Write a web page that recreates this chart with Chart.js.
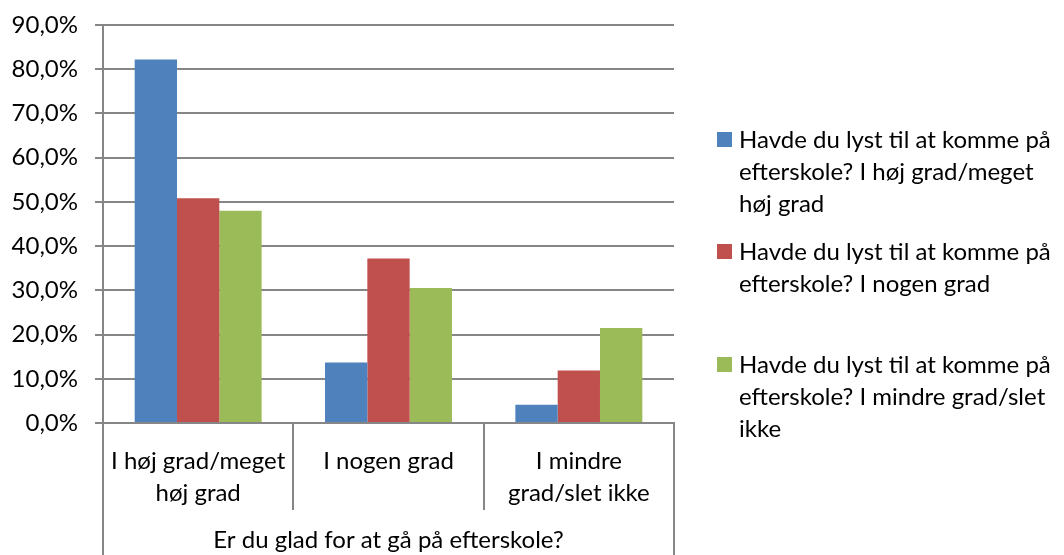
<!DOCTYPE html>
<html>
<head>
<meta charset="utf-8">
<script src="https://cdn.jsdelivr.net/npm/chart.js@4/dist/chart.umd.min.js"></script>
<style>
  html, body { margin: 0; padding: 0; background: #fff; overflow: hidden; }
  #wrap { position: relative; width: 1064px; height: 555px; overflow: hidden; }
  #wrap canvas { position: absolute; left: 0; top: 0; }
  .lg-item { position: absolute; left: 717px; font-family: Lato, sans-serif; font-size: 24px;
             line-height: 32px; color: #000; white-space: nowrap; }
  .lg-box { position: absolute; left: 0; top: 9px; width: 15px; height: 15px; }
  .lg-text { position: absolute; left: 22px; top: 0; }
</style>
</head>
<body>
<div id="wrap">
  <canvas id="c" width="1064" height="555"></canvas>
  <div id="legend"></div>
</div>
<script>
// Categories and series values (percent)
const categories = [
  ['I høj grad/meget', 'høj grad'],
  ['I nogen grad'],
  ['I mindre', 'grad/slet ikke']
];
const axisTitle = 'Er du glad for at gå på efterskole?';

const seriesLabels = [
  'Havde du lyst til at komme på efterskole? I høj grad/meget høj grad',
  'Havde du lyst til at komme på efterskole? I nogen grad',
  'Havde du lyst til at komme på efterskole? I mindre grad/slet ikke'
];
// wrapped legend lines, as in the reference
const legendLines = [
  ['Havde du lyst til at komme på', 'efterskole? I høj grad/meget', 'høj grad'],
  ['Havde du lyst til at komme på', 'efterskole? I nogen grad'],
  ['Havde du lyst til at komme på', 'efterskole? I mindre grad/slet', 'ikke']
];
const seriesHoej = [82.2, 13.7, 4.1];
const seriesNogen = [50.8, 37.2, 11.9];
const seriesMindre = [48.0, 30.5, 21.5];

const yTicksMax = 90;
const yTicksStep = 10;

const COLORS = ['#4F81BD', '#C0504D', '#9BBB59'];
const AXIS = '#868686';
const FONT = 'Lato, sans-serif';

// Lines for the multi-level category axis (separators and outer box)
const categoryFrame = {
  id: 'categoryFrame',
  afterDraw(chart) {
    const { ctx, chartArea } = chart;
    const x = chart.scales.x;
    const bottom = chart.height;
    ctx.save();
    ctx.strokeStyle = AXIS;
    ctx.lineWidth = 2;
    ctx.beginPath();
    // outer box sides
    [chartArea.left, chartArea.right].forEach(px => {
      ctx.moveTo(px, chartArea.bottom);
      ctx.lineTo(px, bottom);
    });
    // separators between categories
    for (let i = 0; i < categories.length - 1; i++) {
      const px = Math.round((x.getPixelForValue(i) + x.getPixelForValue(i + 1)) / 2);
      ctx.moveTo(px, chartArea.bottom);
      ctx.lineTo(px, chartArea.bottom + 87);
    }
    ctx.stroke();
    ctx.restore();
  }
};

const datasets = [seriesHoej, seriesNogen, seriesMindre].map((data, i) => ({
  label: seriesLabels[i],
  data,
  backgroundColor: COLORS[i],
  borderWidth: 0,
  categoryPercentage: 0.667,
  barPercentage: 1
}));

new Chart(document.getElementById('c'), {
  type: 'bar',
  data: { labels: categories, datasets },
  options: {
    responsive: false,
    animation: false,
    layout: { padding: { left: 0, right: 390, top: 25, bottom: 0 } },
    plugins: { legend: { display: false }, tooltip: { enabled: false } },
    scales: {
      y: {
        min: 0,
        max: yTicksMax,
        afterFit: s => { s.width = 103; s.paddingTop = 0; s.paddingBottom = 0; },
        ticks: {
          stepSize: yTicksStep,
          color: '#000',
          padding: 17,
          font: { family: FONT, size: 24 },
          callback: v => v.toFixed(1).replace('.', ',') + '%'
        },
        grid: { color: AXIS, lineWidth: 2, tickLength: 8 },
        border: { color: AXIS, width: 2 }
      },
      x: {
        afterFit: s => { s.height = 132; },
        ticks: {
          color: '#000',
          padding: 14,
          maxRotation: 0,
          font: { family: FONT, size: 24, lineHeight: 1.35 }
        },
        grid: { display: false },
        border: { color: AXIS, width: 2 },
        title: {
          display: true,
          text: axisTitle,
          color: '#000',
          font: { family: FONT, size: 24 },
          padding: { top: 0, bottom: 0 }
        }
      }
    }
  },
  plugins: [categoryFrame]
});

// HTML legend with wrapped entries
const legendTops = [123, 235, 348];
const legendEl = document.getElementById('legend');
legendLines.forEach((lines, i) => {
  const item = document.createElement('div');
  item.className = 'lg-item';
  item.style.top = legendTops[i] + 'px';
  const box = document.createElement('div');
  box.className = 'lg-box';
  box.style.background = COLORS[i];
  const text = document.createElement('div');
  text.className = 'lg-text';
  text.innerHTML = lines.map(l => l.replace(/&/g, '&amp;')).join('<br>');
  item.appendChild(box);
  item.appendChild(text);
  legendEl.appendChild(item);
});
</script>
</body>
</html>
